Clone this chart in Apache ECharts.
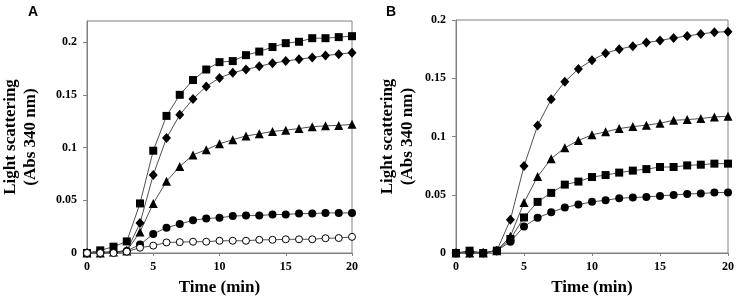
<!DOCTYPE html>
<html><head><meta charset="utf-8">
<script src="https://cdn.jsdelivr.net/npm/echarts@6/dist/echarts.min.js"></script>
<style>html,body{margin:0;padding:0;background:#fff}#c{width:737px;height:301px}</style>
</head><body><div id="c"></div>
<script>
// Time points (min)
const time = [0,1,2,3,4,5,6,7,8,9,10,11,12,13,14,15,16,17,18,19,20];

// Panel A
const aSquare  = [0,0.0025,0.006,0.011,0.047,0.097,0.130,0.150,0.164,0.174,0.181,0.182,0.1876,0.191,0.1953,0.199,0.2003,0.2037,0.2037,0.2047,0.2056];
const aDiamond = [0,0,0.001,0.002,0.0284,0.074,0.109,0.131,0.146,0.158,0.166,0.171,0.174,0.177,0.180,0.182,0.1838,0.1854,0.1873,0.1885,0.190];
const aTriangle= [0,0,0.001,0.002,0.020,0.047,0.068,0.082,0.093,0.098,0.1035,0.1075,0.111,0.113,0.1153,0.1165,0.118,0.1198,0.1206,0.121,0.122];
const aCircle  = [0,0.001,0.001,0.002,0.008,0.018,0.024,0.0275,0.031,0.0327,0.0334,0.035,0.0355,0.0355,0.0365,0.0365,0.0374,0.0374,0.038,0.038,0.038];
const aOpen    = [0,0,0,0.0013,0.005,0.007,0.010,0.0103,0.0107,0.0107,0.0116,0.0116,0.0116,0.0125,0.0125,0.013,0.013,0.013,0.014,0.0142,0.0153];

// Panel B
const bDiamond = [0,0,0,0.002,0.0285,0.0746,0.1094,0.132,0.147,0.158,0.1655,0.1715,0.175,0.1775,0.1806,0.1823,0.1846,0.1863,0.188,0.1895,0.190];
const bTriangle= [0,0,0,0.002,0.0143,0.0433,0.0656,0.081,0.0903,0.0966,0.1014,0.104,0.1068,0.1085,0.1097,0.1114,0.1139,0.1145,0.1154,0.1168,0.1174];
const bSquare  = [0,0.002,0,0.002,0.012,0.0305,0.0439,0.0516,0.0587,0.0613,0.0652,0.0669,0.069,0.0707,0.072,0.0738,0.0738,0.0752,0.0758,0.0767,0.0767];
const bCircle  = [0,0.001,0,0.002,0.0097,0.0228,0.0302,0.035,0.039,0.0416,0.0439,0.0453,0.047,0.0476,0.0481,0.049,0.0498,0.0507,0.051,0.0519,0.0519];

const yTicksA = [0,0.05,0.1,0.15,0.2];
const yTicksB = [0,0.05,0.1,0.15,0.2];
const xTicks = [0,5,10,15,20];

const pair = arr => time.map((t,i)=>[t,arr[i]]);
const serif = '"Liberation Serif","Times New Roman",serif';
const axisColor = '#808080';

function xAxis(gi){
  return {type:'value', gridIndex:gi, min:0, max:20, interval:5,
    name:'Time (min)', nameLocation:'middle', nameGap:26, nameMoveOverlap:false,
    nameTextStyle:{fontFamily:serif, fontWeight:'bold', fontSize:17, color:'#000'},
    axisLine:{lineStyle:{color:axisColor}}, axisTick:{length:3, lineStyle:{color:axisColor}},
    axisLabel:{customValues:xTicks, fontFamily:serif, fontWeight:'bold', fontSize:12, color:'#000', margin:8},
    splitLine:{show:false}};
}
function yAxis(gi, max, ticks, gap){
  return {type:'value', gridIndex:gi, min:0, max:max,
    axisLabel:{customValues:ticks, fontFamily:serif, fontWeight:'bold', fontSize:12, color:'#000', margin:10,
      formatter:v=>String(+v.toFixed(2))},
    axisTick:{customValues:ticks, length:4, lineStyle:{color:axisColor}},
    name:'Light scattering\n(Abs 340 nm)', nameLocation:'middle', nameGap:gap, nameRotate:90, nameMoveOverlap:false,
    nameTextStyle:{fontFamily:serif, fontWeight:'bold', fontSize:17, color:'#000', lineHeight:20},
    axisLine:{show:true, lineStyle:{color:axisColor}}, splitLine:{show:false}};
}
function ser(data, gi, symbol, size, open){
  return {type:'line', xAxisIndex:gi, yAxisIndex:gi, data:pair(data), symbol:symbol, symbolSize:size,
    showAllSymbol:true, animation:false,
    lineStyle:{color:'#505050', width:1},
    itemStyle:{color: open ? '#fff' : '#000', borderColor:'#000', borderWidth: open?1:0}};
}

const chart = echarts.init(document.getElementById('c'));
chart.setOption({
  animation:false,
  grid:[
    {left:78, top:21, width:274, height:236, show:true, borderColor:axisColor, borderWidth:1, containLabel:false},
    {left:456, top:20, width:272, height:234, show:true, borderColor:axisColor, borderWidth:1, containLabel:false}
  ],
  graphic:[
    {type:'text', left:28, top:5, style:{text:'A', font:'bold 14px "Liberation Sans", Arial, sans-serif', fill:'#000'}},
    {type:'text', left:386, top:5, style:{text:'B', font:'bold 14px "Liberation Sans", Arial, sans-serif', fill:'#000'}}
  ],
  xAxis:[xAxis(0), xAxis(1)],
  yAxis:[yAxis(0,0.22,yTicksA,46), yAxis(1,0.2,yTicksB,38)],
  series:[
    ser(aSquare,0,'rect',8),
    ser(aDiamond,0,'diamond',[9,10]),
    ser(aTriangle,0,'triangle',9),
    ser(aCircle,0,'circle',8),
    ser(aOpen,0,'circle',7,true),
    ser(bDiamond,1,'diamond',[9,10]),
    ser(bTriangle,1,'triangle',9),
    ser(bSquare,1,'rect',8),
    ser(bCircle,1,'circle',8)
  ]
});
</script></body></html>
